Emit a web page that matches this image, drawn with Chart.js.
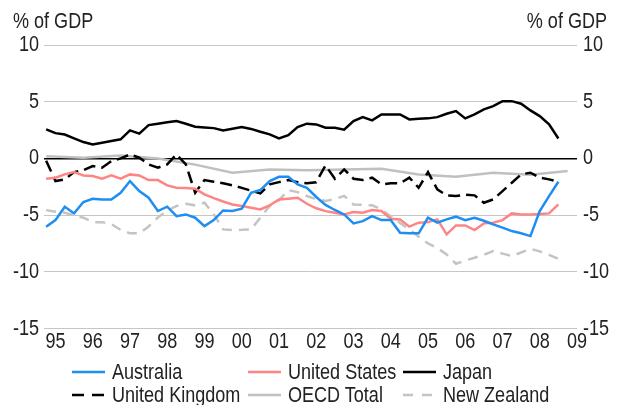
<!DOCTYPE html>
<html>
<head>
<meta charset="utf-8">
<script src="https://cdn.jsdelivr.net/npm/chart.js@4/dist/chart.umd.min.js"></script>
<style>
  body { margin: 0; background: #fff; }
  #wrap { position: relative; width: 625px; height: 405px; overflow: hidden; }
  #legend {
    position: absolute; left: 72px; top: 360px;
    display: grid; grid-template-columns: 176px 155px auto; grid-auto-rows: 23px;
    font: 22px "Liberation Sans", Arial, sans-serif;
    color: #222;
  }
  #legend .item { display: flex; align-items: center; white-space: nowrap; }
  #legend svg { margin-right: 7px; flex: none; }
  /* condensed look, like Arial Narrow */
  #legend span { display: inline-block; transform: scaleX(0.82); transform-origin: left center; }
</style>
</head>
<body>
<div id="wrap">
  <canvas id="chart" width="625" height="405"></canvas>
  <div id="legend"></div>
</div>
<script>
const FONT = '"Liberation Sans", Arial, sans-serif';
const NARROW = 0.82;

// quarterly, 1994 Q4 .. 2008 Q3 (x = quarters since 1994 Q4)
const australia = [-6.02,-5.44,-4.26,-4.85,-3.85,-3.56,-3.62,-3.62,-3.03,-2.0,
  -2.88,-3.47,-4.64,-4.26,-5.09,-4.94,-5.23,-5.97,-5.44,-4.59,
  -4.64,-4.44,-3.03,-2.79,-2.0,-1.62,-1.62,-2.29,-2.6,-3.4,
  -4.1,-4.55,-4.94,-5.73,-5.53,-5.09,-5.44,-5.44,-6.55,-6.61,
  -6.61,-5.23,-5.67,-5.38,-5.14,-5.44,-5.23,-5.5,-5.82,-6.1,
  -6.41,-6.6,-6.85,-4.65,-3.32,-2.06];
const unitedStates = [-1.79,-1.70,-1.41,-1.21,-1.5,-1.56,-1.79,-1.5,-1.79,-1.41,
  -1.5,-1.91,-1.91,-2.38,-2.59,-2.62,-2.67,-3.17,-3.5,-3.8,
  -4.06,-4.2,-4.35,-4.5,-4.14,-3.62,-3.55,-3.47,-4.0,-4.4,
  -4.65,-4.8,-4.94,-4.73,-4.79,-4.56,-4.64,-5.32,-5.38,-6.02,
  -5.67,-5.62,-5.38,-6.7,-5.91,-5.91,-6.32,-5.73,-5.67,-5.44,
  -4.85,-4.94,-4.94,-4.9,-4.85,-4.06];
const japan = [2.56,2.23,2.1,1.77,1.44,1.23,1.38,1.53,1.68,2.47,
  2.18,2.94,3.06,3.18,3.3,3.05,2.8,2.73,2.67,2.47,
  2.62,2.76,2.6,2.35,2.12,1.76,2.05,2.76,3.06,3.0,
  2.7,2.7,2.53,3.29,3.64,3.35,3.88,3.88,3.88,3.44,
  3.5,3.53,3.64,3.94,4.17,3.53,3.88,4.32,4.61,5.05,
  5.05,4.82,4.23,3.73,3.0,1.76];
const unitedKingdom = [-0.2,-2.0,-1.85,-1.21,-1.03,-0.68,-0.82,-0.24,0.0,0.35,
  0.06,-0.53,-0.82,-0.53,0.35,-0.53,-3.03,-1.91,-2.05,-2.2,
  -2.38,-2.6,-2.85,-3.09,-2.29,-2.09,-1.91,-2.09,-2.2,-2.1,
  -0.62,-1.79,-0.97,-1.79,-1.91,-1.70,-2.29,-2.2,-2.2,-1.70,
  -2.59,-1.21,-2.73,-3.26,-3.32,-3.2,-3.26,-3.91,-3.62,-2.88,
  -2.15,-1.41,-1.26,-1.70,-1.85,-2.06];
const newZealand = [-4.56,-4.7,-4.79,-5.03,-5.23,-5.62,-5.62,-5.8,-6.3,-6.61,
  -6.61,-6.0,-5.2,-4.6,-4.2,-4.0,-4.14,-3.91,-4.94,-6.26,
  -6.32,-6.3,-6.26,-5.23,-4.2,-3.7,-2.8,-2.97,-3.32,-3.6,
  -3.76,-3.6,-3.3,-4.06,-4.1,-4.14,-4.5,-5.1,-5.7,-6.26,
  -6.9,-7.5,-7.9,-8.47,-9.29,-9.0,-8.76,-8.5,-8.17,-8.4,
  -8.61,-8.3,-7.97,-8.2,-8.5,-8.85];
// annual, 1994 .. 2008, plotted at Q4
const oecdTotal = [0.2,0.05,0.25,0.0,-0.55,-1.26,-0.97,-1.05,-0.97,-0.91,-1.41,-1.62,-1.26,-1.45,-1.12];

const yearLabels = ['95','96','97','98','99','00','01','02','03','04','05','06','07','08','09'];
const yTicks = [-15, -10, -5, 0, 5, 10];

const quarterly = vals => vals.map((v, i) => ({ x: i, y: v }));
const annual = vals => vals.map((v, k) => ({ x: k * 4, y: v }));

const series = [
  { label: 'Australia', data: quarterly(australia), color: '#1f8ef1', dash: [] },
  { label: 'United States', data: quarterly(unitedStates), color: '#ff8585', dash: [] },
  { label: 'Japan', data: quarterly(japan), color: '#000000', dash: [] },
  { label: 'United Kingdom', data: quarterly(unitedKingdom), color: '#000000', dash: [12, 6] },
  { label: 'OECD Total', data: annual(oecdTotal), color: '#c0c0c0', dash: [] },
  { label: 'New Zealand', data: quarterly(newZealand), color: '#c4c4c4', dash: [10, 7] }
];

// squeeze all canvas text horizontally around its anchor point
const narrowText = {
  id: 'narrowText',
  beforeInit(chart) {
    const ctx = chart.ctx;
    const fill = ctx.fillText;
    ctx.fillText = function (text, x, y) {
      this.save();
      this.translate(x, y);
      this.scale(NARROW, 1);
      fill.call(this, text, 0, 0);
      this.restore();
    };
  }
};

// "% of GDP" above both value axes
const unitTitles = {
  id: 'unitTitles',
  afterDraw(chart) {
    const ctx = chart.ctx;
    ctx.save();
    ctx.font = '22px ' + FONT;
    ctx.fillStyle = '#222';
    ctx.textBaseline = 'middle';
    ctx.textAlign = 'left';
    ctx.fillText('% of GDP', 13, 22);
    ctx.textAlign = 'right';
    ctx.fillText('% of GDP', 607, 22);
    ctx.restore();
  }
};

const tickFont = { family: FONT, size: 22 };

const chart = new Chart(document.getElementById('chart'), {
  type: 'line',
  plugins: [narrowText, unitTitles],
  data: {
    datasets: series.map(s => ({
      label: s.label,
      data: s.data,
      borderColor: s.color,
      backgroundColor: s.color,
      borderDash: s.dash,
      borderWidth: 2.5,
      pointRadius: 0,
      tension: 0,
      spanGaps: true
    }))
  },
  options: {
    responsive: false,
    animation: false,
    layout: { padding: { top: 45, left: 0, right: 0, bottom: 0 } },
    plugins: { legend: { display: false }, tooltip: { enabled: false } },
    scales: {
      x: {
        type: 'linear',
        min: -0.23,
        max: 57,
        grid: { display: false, drawTicks: false },
        border: { display: false },
        afterBuildTicks: scale => { scale.ticks = yearLabels.map((_, k) => ({ value: 1 + k * 4 })); },
        afterFit: scale => { scale.height = 76.5; },
        ticks: {
          autoSkip: false,
          maxRotation: 0,
          padding: 0,
          color: '#222',
          font: tickFont,
          callback: v => yearLabels[(v - 1) / 4]
        }
      },
      y: {
        position: 'left',
        min: -15,
        max: 10,
        afterBuildTicks: scale => { scale.ticks = yTicks.map(v => ({ value: v })); },
        afterFit: scale => { scale.width = 44; },
        grid: {
          drawTicks: false,
          color: c => c.tick.value === 0 ? '#000000' : '#c6c6c6',
          lineWidth: c => c.tick.value === 0 ? 1.5 : 1
        },
        border: { display: false },
        ticks: { padding: 5, color: '#222', font: tickFont }
      },
      y2: {
        position: 'right',
        min: -15,
        max: 10,
        afterBuildTicks: scale => { scale.ticks = yTicks.map(v => ({ value: v })); },
        afterFit: scale => { scale.width = 48; },
        grid: { display: false, drawTicks: false },
        border: { display: false },
        ticks: { padding: 6, color: '#222', font: tickFont }
      }
    }
  }
});

// legend laid out in three columns under the axis
const legend = document.getElementById('legend');
series.forEach(s => {
  const item = document.createElement('div');
  item.className = 'item';
  const dash = s.dash.length ? ` stroke-dasharray="${s.dash[0]} ${s.dash[1] + 2}"` : '';
  item.innerHTML = `<svg width="33" height="6"><line x1="0" y1="3" x2="33" y2="3" stroke="${s.color}" stroke-width="2.5"${dash}/></svg><span>${s.label}</span>`;
  legend.appendChild(item);
});
</script>
</body>
</html>
